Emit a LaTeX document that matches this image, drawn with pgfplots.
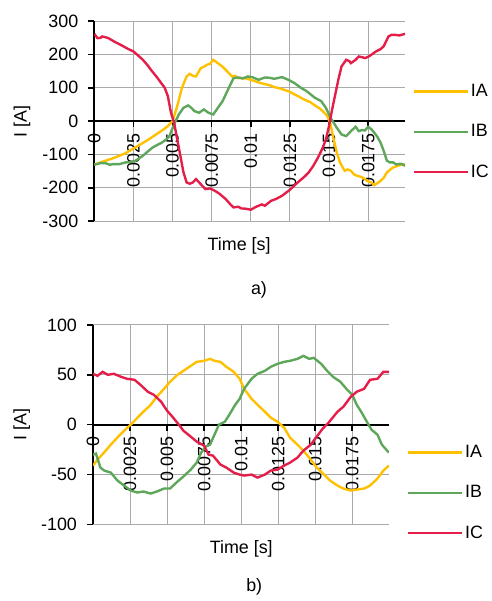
\documentclass[border=0pt]{standalone}
\usepackage{fontspec}
\setmainfont{Liberation Sans}
\usepackage{pgfplots}
\pgfplotsset{compat=1.18}

\definecolor{ia}{RGB}{255,192,0}
\definecolor{ib}{RGB}{94,166,90}
\definecolor{ic}{RGB}{228,30,72}
\definecolor{gridgray}{RGB}{170,170,170}

\pgfplotsset{
  wave/.style={
    scale only axis,
    axis x line*=middle, axis y line*=left,
    axis line style={black, line width=2.2pt},
    grid=major,
    grid style={gridgray, line width=0.9pt},
    major tick length=6pt,
    tick style={black, line width=1.6pt},
    tick align=outside,
    xmin=0,
    xtick={0,0.0025,0.005,0.0075,0.01,0.0125,0.015,0.0175},
    xticklabels={0,0.0025,0.005,0.0075,0.01,0.0125,0.015,0.0175},
    scaled x ticks=false,
    hide obscured x ticks=false,
    hide obscured y ticks=false,
    xticklabel style={rotate=90, anchor=east},
    yticklabel style={xshift=-4pt},
    legend style={draw=none, fill=none, row sep=21.5pt, inner sep=0pt},
    legend image code/.code={\draw[#1] (0pt,0pt) -- (54pt,0pt);},
    legend cell align=left,
    clip mode=individual,
  }
}

\begin{document}
\fontsize{18}{20}\selectfont
\begin{tikzpicture}
\path (0pt,0pt) rectangle (495pt,-601pt);

% a) upper chart
\begin{axis}[wave,
  at={(95pt,-222.7pt)}, anchor=south west,
  width=313pt, height=201.4pt,
  xmax=0.01986, ymin=-300, ymax=300,
  ytick={-300,-200,-100,0,100,200,300},
  yticklabels={-300,-200,-100,0,100,200,300},
  xlabel={Time [s]}, ylabel={I [A]},
  xlabel style={at={(axis description cs:0.466,-0.126)}, anchor=center},
  ylabel style={at={(axis description cs:-0.233,0.5)}, anchor=center},
  legend style={at={(axis description cs:1.025,0.446)}, anchor=west}]
\addplot[ia, line width=2.4pt] table {
t I
0 -131
0.0004 -124
0.0007 -119
0.0011 -113
0.0016 -104
0.0020 -96
0.0024 -85
0.0028 -74
0.0033 -60
0.0037 -48
0.0041 -35
0.0044 -26
0.0047 -15
0.0050 0
0.0053 45
0.0056 100
0.0059 134
0.0061 142
0.0063 136
0.0065 134
0.0068 159
0.0070 163
0.0072 169
0.0074 172
0.0076 184
0.0079 174
0.0082 163
0.0084 154
0.0088 134
0.0090 136
0.0092 129
0.0096 129
0.0100 124
0.0105 116
0.0109 111
0.0112 108
0.0115 102
0.0118 99
0.0122 93
0.0125 88
0.0128 80
0.0131 73
0.0134 65
0.0138 57
0.0141 47
0.0144 38
0.0146 30
0.0149 15
0.0151 -10
0.0153 -55
0.0155 -95
0.0157 -124
0.0160 -149
0.0162 -145
0.0164 -149
0.0166 -160
0.0168 -164
0.0171 -168
0.0173 -174
0.0175 -181
0.0177 -184
0.0179 -192
0.0181 -186
0.0183 -179
0.0185 -170
0.0187 -154
0.0189 -146
0.0191 -139
0.0194 -134
0.01986 -129
};
\addlegendentry{IA}
\addplot[ib, line width=2.4pt] table {
t I
0 -131
0.0004 -126
0.0007 -126
0.0010 -131
0.0012 -129
0.0016 -129
0.0020 -124
0.0025 -122
0.0028 -114
0.0031 -104
0.0034 -92
0.0037 -80
0.0040 -72
0.0043 -65
0.0046 -55
0.0048 -45
0.0051 -10
0.0054 20
0.0057 40
0.0060 47
0.0062 40
0.0064 30
0.0067 25
0.0070 35
0.0073 25
0.0076 20
0.0079 40
0.0082 60
0.0086 100
0.0089 129
0.0092 131
0.0095 128
0.0098 134
0.0101 132
0.0105 124
0.0109 131
0.0112 130
0.0115 127
0.0120 132
0.0124 124
0.0128 114
0.0132 100
0.0135 92
0.0137 85
0.0141 70
0.0145 60
0.0148 40
0.0151 10
0.0155 -20
0.0158 -40
0.0161 -45
0.0164 -30
0.0167 -17
0.0169 -30
0.0171 -27
0.0173 -28
0.0175 -17
0.0177 -24
0.0179 -35
0.0181 -48
0.0183 -65
0.0185 -90
0.0187 -119
0.0189 -124
0.0191 -124
0.0193 -130
0.0196 -128
0.01986 -134
};
\addlegendentry{IB}
\addplot[ic, line width=2.4pt] table {
t I
0 262
0.0002 249
0.0004 250
0.0005 254
0.0007 252
0.0009 249
0.0013 238
0.0018 226
0.0021 218
0.0025 209
0.0028 197
0.0031 184
0.0034 168
0.0037 149
0.0040 132
0.0042 119
0.0045 100
0.0047 75
0.0049 25
0.0051 -5
0.0053 -55
0.0055 -104
0.0057 -154
0.0059 -184
0.0061 -188
0.0063 -184
0.0065 -174
0.0068 -189
0.0071 -204
0.0074 -202
0.0077 -209
0.0080 -218
0.0084 -234
0.0087 -250
0.0089 -259
0.0092 -257
0.0094 -262
0.0097 -263
0.0100 -266
0.0103 -258
0.0105 -254
0.0107 -250
0.0109 -254
0.0113 -239
0.0116 -234
0.0120 -224
0.0125 -206
0.0130 -184
0.0134 -168
0.0137 -154
0.0140 -134
0.0143 -109
0.0146 -80
0.0148 -55
0.0150 -15
0.0152 35
0.0154 80
0.0156 125
0.0158 164
0.0161 184
0.0163 180
0.0164 174
0.0167 184
0.0169 194
0.0171 192
0.0173 189
0.0175 193
0.0177 199
0.0180 209
0.0183 216
0.0185 225
0.0188 254
0.0190 259
0.0192 259
0.0195 257
0.01986 262
};
\addlegendentry{IC}
\node at (axis description cs:0.530,-0.344) {a)};
\end{axis}

% b) lower chart
\begin{axis}[wave,
  at={(93.7pt,-528.3pt)}, anchor=south west,
  width=298pt, height=201pt,
  xmax=0.01997, ymin=-100, ymax=100,
  ytick={-100,-50,0,50,100},
  yticklabels={-100,-50,0,50,100},
  xlabel={Time [s]}, ylabel={I [A]},
  xlabel style={at={(axis description cs:0.501,-0.123)}, anchor=center},
  ylabel style={at={(axis description cs:-0.241,0.5)}, anchor=center},
  legend style={at={(axis description cs:1.061,0.158)}, anchor=west}]
\addplot[ia, line width=2.4pt] table {
t I
0 -41
0.0003 -35
0.0008 -27
0.0012 -20
0.0017 -12
0.0021 -6
0.00254 0
0.0030 7
0.0034 13
0.0039 20
0.0043 28
0.0048 36
0.0052 43
0.0057 50
0.0061 54
0.0066 59
0.0070 63
0.0075 64
0.0079 66
0.0082 64
0.0086 63
0.0090 58
0.0095 53
0.0099 46
0.0102 36
0.0107 26
0.0111 20
0.0116 13
0.0120 7
0.01245 3
0.0129 -3
0.0133 -13
0.0138 -20
0.0142 -26
0.0147 -35
0.0151 -43
0.0156 -50
0.0160 -56
0.0165 -61
0.0169 -64
0.0174 -66
0.0178 -65
0.0183 -64
0.0187 -61
0.0192 -54
0.0196 -46
0.01997 -41
};
\addlegendentry{IA}
\addplot[ib, line width=2.4pt] table {
t I
0 -30
0.0002 -29
0.0005 -43
0.00076 -46
0.0012 -48
0.00165 -56
0.0021 -61
0.00254 -66
0.0030 -68
0.0034 -67
0.0039 -69
0.0043 -67
0.0048 -64
0.0052 -64
0.0057 -57
0.0061 -52
0.0066 -45
0.0070 -38
0.0073 -28
0.0076 -22
0.0079 -20
0.0082 -10
0.0085 0
0.0089 3
0.0092 10
0.0096 20
0.0099 26
0.0102 36
0.0107 46
0.0111 51
0.0116 54
0.0120 58
0.01245 61
0.0129 63
0.0133 64
0.0138 66
0.0142 69
0.0146 66
0.0149 67
0.0154 61
0.0158 54
0.0162 48
0.0167 43
0.0171 36
0.0175 30
0.0178 20
0.0181 13
0.0186 0
0.0188 -5
0.0192 -10
0.0195 -20
0.01997 -28
};
\addlegendentry{IB}
\addplot[ic, line width=2.4pt] table {
t I
0 51
0.0003 49
0.00065 53
0.0010 50
0.0014 51
0.0019 48
0.0023 46
0.0028 45
0.0032 40
0.0037 33
0.0041 30
0.0046 23
0.0050 14
0.0053 9
0.0058 0
0.0061 -6
0.0066 -12
0.0070 -17
0.0075 -21
0.0078 -30
0.0081 -31
0.0086 -40
0.0090 -43
0.0095 -48
0.0099 -50
0.0102 -51
0.0107 -50
0.0111 -53
0.0116 -50
0.0120 -46
0.01245 -45
0.0129 -41
0.0133 -38
0.0138 -33
0.0142 -26
0.0147 -20
0.0151 -12
0.0155 -4
0.0159 2
0.0165 13
0.0169 18
0.0174 28
0.0178 33
0.0183 36
0.0187 45
0.0192 46
0.0196 53
0.01997 53
};
\addlegendentry{IC}
\node at (axis description cs:0.545,-0.312) {b)};
\end{axis}
\end{tikzpicture}
\end{document}
